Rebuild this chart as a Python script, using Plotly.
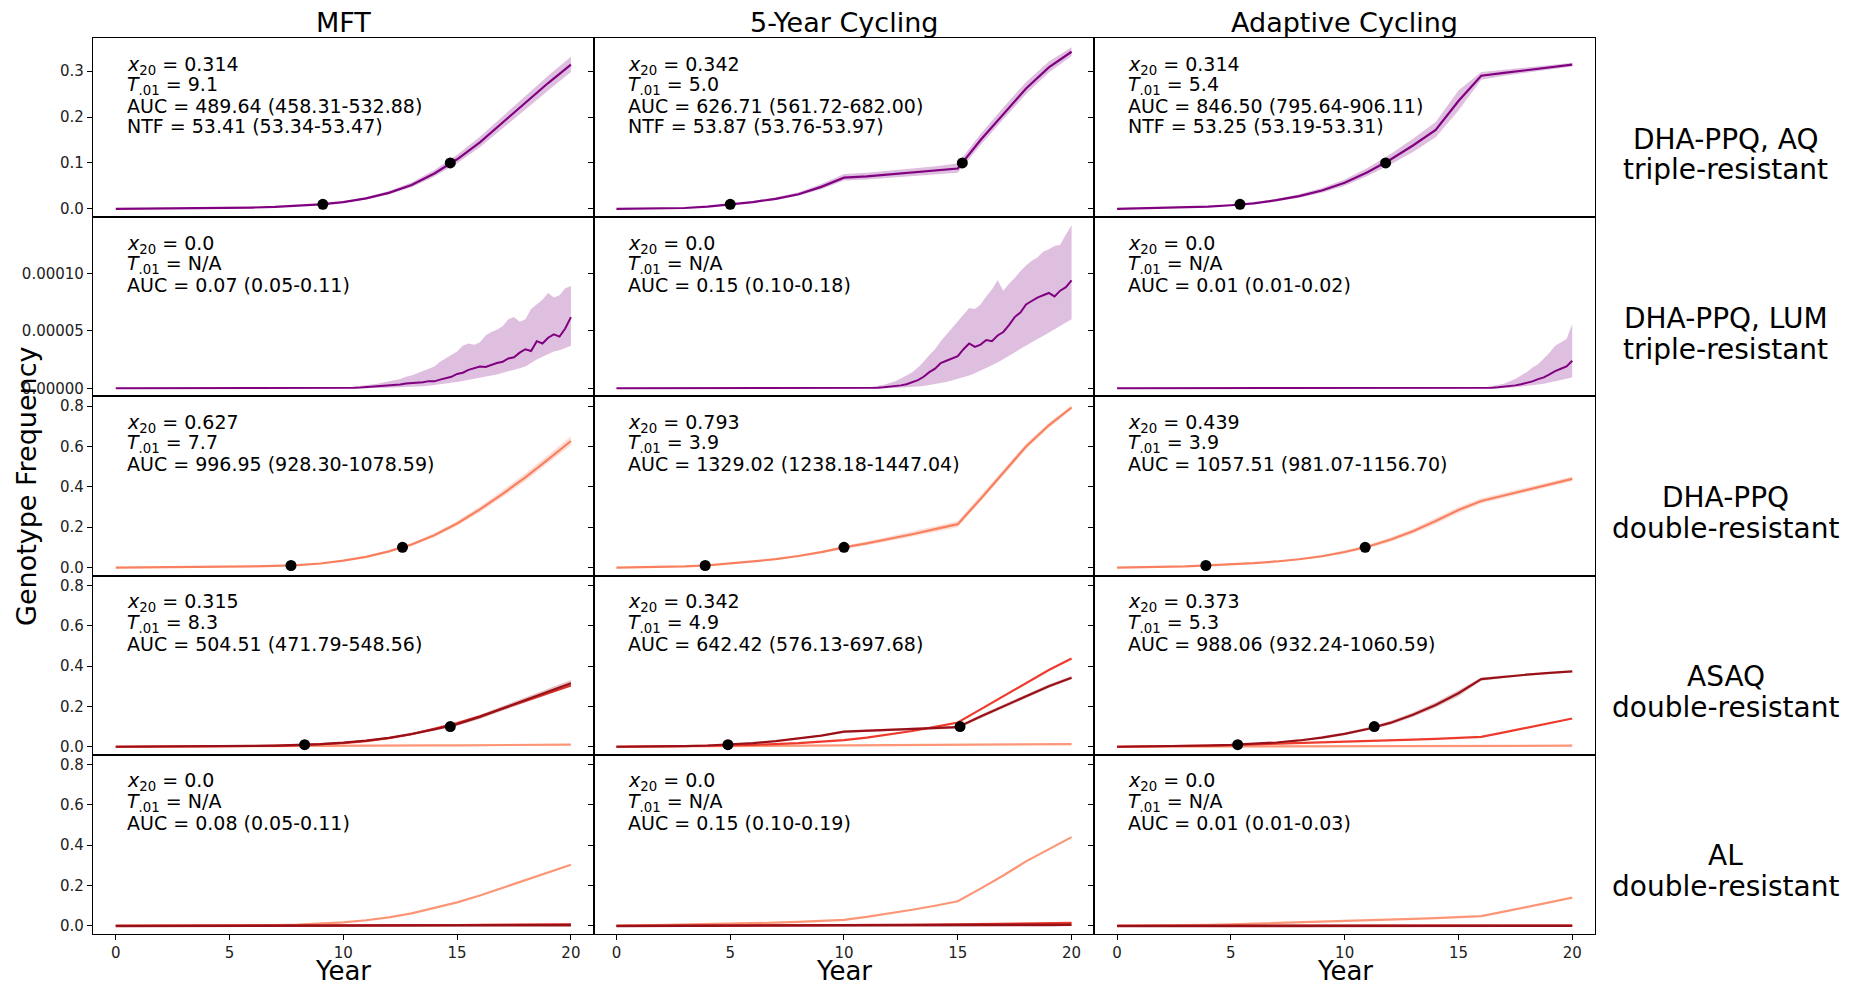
import plotly.graph_objects as go
from plotly.subplots import make_subplots

# ---------------- data ----------------
years = list(range(21))

strategies = ["MFT", "5-Year Cycling", "Adaptive Cycling"]
row_label_top = ["DHA-PPQ, AQ", "DHA-PPQ, LUM", "DHA-PPQ", "ASAQ", "AL"]
row_label_bottom = ["triple-resistant", "triple-resistant", "double-resistant",
                    "double-resistant", "double-resistant"]

x20_text = [["0.314", "0.342", "0.314"], ["0.0", "0.0", "0.0"], ["0.627", "0.793", "0.439"],
            ["0.315", "0.342", "0.373"], ["0.0", "0.0", "0.0"]]
t01_text = [["9.1", "5.0", "5.4"], ["N/A", "N/A", "N/A"], ["7.7", "3.9", "3.9"],
            ["8.3", "4.9", "5.3"], ["N/A", "N/A", "N/A"]]
auc_text = [["489.64 (458.31-532.88)", "626.71 (561.72-682.00)", "846.50 (795.64-906.11)"],
            ["0.07 (0.05-0.11)", "0.15 (0.10-0.18)", "0.01 (0.01-0.02)"],
            ["996.95 (928.30-1078.59)", "1329.02 (1238.18-1447.04)", "1057.51 (981.07-1156.70)"],
            ["504.51 (471.79-548.56)", "642.42 (576.13-697.68)", "988.06 (932.24-1060.59)"],
            ["0.08 (0.05-0.11)", "0.15 (0.10-0.19)", "0.01 (0.01-0.03)"]]
ntf_text = ["53.41 (53.34-53.47)", "53.87 (53.76-53.97)", "53.25 (53.19-53.31)"]

# time to reach 1% and 10% (black dots)
dot_t01 = [[9.1, 5.0, 5.4], None, [7.7, 3.9, 3.9], [8.3, 4.9, 5.3], None]
dot_t10 = [[14.7, 15.2, 11.8], None, [12.6, 10.0, 10.9], [14.7, 15.1, 11.3], None]
dot_levels = [0.01, 0.1]

# Row 1: DHA-PPQ, AQ triple-resistant
aq_mft = [0, 0.0003, 0.0005, 0.0008, 0.0012, 0.002, 0.003, 0.0045, 0.0068, 0.0098, 0.015, 0.023,
          0.035, 0.052, 0.077, 0.108, 0.145, 0.188, 0.232, 0.274, 0.314]
aq_mft_lo = [0, 0.0002, 0.0004, 0.0006, 0.001, 0.0017, 0.0026, 0.0039, 0.006, 0.0087, 0.0134, 0.0207,
             0.0317, 0.0472, 0.0705, 0.0995, 0.134, 0.175, 0.217, 0.258, 0.298]
aq_mft_hi = [0, 0.0004, 0.0006, 0.001, 0.0014, 0.0023, 0.0035, 0.0051, 0.0077, 0.011, 0.0168, 0.0256,
             0.0388, 0.0575, 0.0845, 0.118, 0.157, 0.202, 0.247, 0.29, 0.331]
aq_5y = [0, 0.0005, 0.001, 0.002, 0.005, 0.010, 0.015, 0.022, 0.032, 0.048, 0.068, 0.071, 0.075,
         0.079, 0.083, 0.088, 0.150, 0.207, 0.262, 0.308, 0.342]
aq_5y_lo = [0, 0.0004, 0.0008, 0.0017, 0.0043, 0.0088, 0.0132, 0.0195, 0.0285, 0.043, 0.062, 0.064,
            0.068, 0.071, 0.075, 0.079, 0.139, 0.195, 0.25, 0.297, 0.333]
aq_5y_hi = [0, 0.0006, 0.0012, 0.0024, 0.0058, 0.0114, 0.0172, 0.0252, 0.0365, 0.0545, 0.076, 0.079,
            0.083, 0.088, 0.093, 0.099, 0.163, 0.221, 0.276, 0.321, 0.352]
aq_ad = [0, 0.001, 0.002, 0.003, 0.005, 0.008, 0.012, 0.019, 0.028, 0.04, 0.057, 0.08, 0.107, 0.138,
         0.172, 0.235, 0.29, 0.296, 0.302, 0.308, 0.314]
aq_ad_lo = [0, 0.0008, 0.0016, 0.0025, 0.0042, 0.0068, 0.0102, 0.0165, 0.0245, 0.0352, 0.0505, 0.0715,
            0.096, 0.124, 0.156, 0.214, 0.281, 0.29, 0.297, 0.303, 0.31]
aq_ad_hi = [0, 0.0012, 0.0024, 0.0036, 0.0058, 0.0093, 0.014, 0.0218, 0.032, 0.0455, 0.064, 0.089,
            0.119, 0.153, 0.189, 0.258, 0.298, 0.303, 0.308, 0.313, 0.318]

# Row 2: DHA-PPQ, LUM triple-resistant (units of 1e-5). Flat at zero from year 0,
# then quarter-year readings once the curve leaves zero.
lum_mft_years = [0] + [10 + i / 4 for i in range(41)]
lum_mft_e5 = [0, 0, 0.02, 0.05, 0.07, 0.1, 0.13, 0.15, 0.2, 0.26, 0.3, 0.33, 0.42, 0.45, 0.5, 0.53,
              0.62, 0.6, 0.75, 0.9, 1.0, 1.25, 1.35, 1.6, 1.75, 1.9, 1.85, 2.05, 2.2, 2.3, 2.6, 2.7,
              3.1, 3.4, 3.25, 4.1, 3.9, 4.4, 4.7, 4.5, 5.2, 6.2]
lum_mft_hi_e5 = [0, 0.02, 0.08, 0.15, 0.2, 0.25, 0.35, 0.4, 0.5, 0.6, 0.7, 0.8, 1.0, 1.1, 1.3, 1.5,
                 1.75, 1.9, 2.3, 2.6, 2.9, 3.2, 3.7, 3.9, 3.8, 4.0, 4.6, 4.9, 5.1, 5.4, 6.0, 6.2,
                 5.8, 6.0, 6.9, 7.3, 7.7, 8.3, 7.9, 8.1, 8.7, 8.9]
lum_mft_lo_e5 = [0, 0, 0, 0, 0, 0, 0.01, 0.02, 0.03, 0.05, 0.06, 0.08, 0.1, 0.12, 0.15, 0.18, 0.22,
                 0.25, 0.32, 0.4, 0.47, 0.55, 0.65, 0.75, 0.82, 0.9, 1.0, 1.1, 1.2, 1.3, 1.45, 1.6,
                 1.75, 1.9, 2.2, 2.5, 2.75, 3.0, 3.2, 3.3, 3.5, 3.7]
lum_5y_years = [0] + [11 + i / 4 for i in range(37)]
lum_5y_e5 = [0, 0, 0.02, 0.05, 0.08, 0.12, 0.18, 0.25, 0.35, 0.5, 0.7, 1.0, 1.4, 1.7, 2.2, 2.4, 2.6,
             2.8, 3.4, 3.9, 3.6, 3.8, 4.2, 4.1, 4.6, 4.9, 5.5, 6.2, 6.6, 7.3, 7.6, 7.9, 8.1, 8.3,
             8.0, 8.5, 8.8, 9.4]
lum_5y_hi_e5 = [0, 0.05, 0.12, 0.2, 0.3, 0.45, 0.6, 0.85, 1.1, 1.4, 1.8, 2.3, 2.9, 3.4, 4.1, 4.7, 5.3,
                5.8, 6.5, 7.0, 6.9, 7.3, 8.0, 8.6, 9.4, 8.5, 9.1, 9.6, 10.2, 10.7, 11.1, 11.4, 11.9,
                12.1, 12.4, 12.5, 13.4, 14.2]
lum_5y_lo_e5 = [0, 0, 0, 0, 0.01, 0.02, 0.03, 0.05, 0.07, 0.1, 0.15, 0.2, 0.27, 0.35, 0.45, 0.55,
                0.67, 0.8, 0.95, 1.1, 1.3, 1.5, 1.75, 2.0, 2.25, 2.5, 2.8, 3.1, 3.4, 3.7, 4.0, 4.3,
                4.55, 4.8, 5.1, 5.4, 5.7, 6.0]
lum_ad_years = [0] + [16 + i / 4 for i in range(17)]
lum_ad_e5 = [0, 0, 0.02, 0.05, 0.08, 0.12, 0.18, 0.25, 0.35, 0.45, 0.6, 0.8, 0.95, 1.2, 1.5, 1.7,
             1.9, 2.4]
lum_ad_hi_e5 = [0, 0.02, 0.1, 0.2, 0.3, 0.4, 0.6, 0.8, 1.1, 1.4, 1.8, 2.1, 2.6, 3.1, 3.7, 4.0, 4.3,
                5.6]
lum_ad_lo_e5 = [0, 0, 0, 0, 0.01, 0.02, 0.05, 0.08, 0.13, 0.18, 0.25, 0.32, 0.4, 0.5, 0.6, 0.7,
                0.82, 0.95]

# Row 3: DHA-PPQ double-resistant
ppq_mft = [0, 0.0005, 0.001, 0.0015, 0.0025, 0.004, 0.006, 0.008, 0.012, 0.02, 0.034, 0.053, 0.08,
           0.114, 0.16, 0.218, 0.288, 0.365, 0.447, 0.536, 0.627]
ppq_mft_lo = [0, 0.0004, 0.0009, 0.0013, 0.0022, 0.0036, 0.0055, 0.0073, 0.011, 0.018, 0.031, 0.049,
              0.075, 0.107, 0.151, 0.207, 0.274, 0.349, 0.429, 0.516, 0.606]
ppq_mft_hi = [0, 0.0006, 0.0011, 0.0017, 0.0028, 0.0045, 0.0066, 0.0088, 0.013, 0.022, 0.037, 0.058,
              0.086, 0.122, 0.171, 0.231, 0.303, 0.383, 0.467, 0.558, 0.65]
ppq_5y = [0, 0.001, 0.003, 0.006, 0.011, 0.02, 0.03, 0.042, 0.057, 0.076, 0.1, 0.12, 0.142, 0.165,
          0.19, 0.215, 0.34, 0.47, 0.6, 0.705, 0.793]
ppq_5y_lo = [0, 0.0008, 0.0025, 0.0052, 0.0097, 0.018, 0.027, 0.038, 0.052, 0.07, 0.092, 0.111,
             0.131, 0.153, 0.176, 0.2, 0.325, 0.455, 0.585, 0.692, 0.782]
ppq_5y_hi = [0, 0.0012, 0.0035, 0.0068, 0.0123, 0.022, 0.033, 0.046, 0.062, 0.082, 0.108, 0.129,
             0.153, 0.177, 0.204, 0.23, 0.355, 0.485, 0.614, 0.718, 0.806]
ppq_ad = [0, 0.001, 0.003, 0.006, 0.011, 0.016, 0.022, 0.03, 0.041, 0.056, 0.077, 0.103, 0.138,
          0.18, 0.23, 0.285, 0.33, 0.357, 0.385, 0.412, 0.439]
ppq_ad_lo = [0, 0.0008, 0.0025, 0.0052, 0.0097, 0.0143, 0.0197, 0.027, 0.037, 0.05, 0.069, 0.094,
             0.127, 0.168, 0.216, 0.27, 0.317, 0.345, 0.373, 0.4, 0.427]
ppq_ad_hi = [0, 0.0012, 0.0035, 0.0068, 0.0123, 0.0177, 0.0243, 0.033, 0.045, 0.062, 0.085, 0.112,
             0.149, 0.192, 0.244, 0.3, 0.343, 0.369, 0.397, 0.424, 0.451]

# Row 4: ASAQ double-resistant (dark = main genotype, red, light)
asaq_mft_dark = [0, 0.0003, 0.0006, 0.001, 0.0016, 0.0025, 0.0038, 0.0058, 0.0088, 0.013, 0.02, 0.03,
                 0.044, 0.063, 0.086, 0.112, 0.148, 0.19, 0.232, 0.274, 0.315]
asaq_mft_dark_lo = [0, 0.0002, 0.0005, 0.0009, 0.0014, 0.0022, 0.0034, 0.0052, 0.0079, 0.0117, 0.018,
                    0.027, 0.04, 0.057, 0.079, 0.104, 0.138, 0.178, 0.219, 0.26, 0.299]
asaq_mft_dark_hi = [0, 0.0004, 0.0007, 0.0011, 0.0018, 0.0028, 0.0042, 0.0064, 0.0097, 0.0143, 0.022,
                    0.033, 0.048, 0.069, 0.093, 0.12, 0.158, 0.202, 0.245, 0.288, 0.331]
asaq_mft_red = [0, 0.0002, 0.0004, 0.0007, 0.0011, 0.0017, 0.0027, 0.0042, 0.0066, 0.011, 0.018, 0.028,
                0.042, 0.062, 0.088, 0.117, 0.151, 0.189, 0.228, 0.266, 0.303]
asaq_mft_light = [0, 0.0002, 0.0004, 0.0006, 0.0009, 0.0012, 0.0016, 0.002, 0.0025, 0.003, 0.0036,
                  0.0042, 0.0049, 0.0056, 0.0063, 0.007, 0.0077, 0.0084, 0.0091, 0.0097, 0.0103]
asaq_5y_dark = [0, 0.0005, 0.001, 0.003, 0.006, 0.0105, 0.018, 0.028, 0.04, 0.055, 0.075, 0.079, 0.083,
                0.087, 0.092, 0.097, 0.15, 0.2, 0.25, 0.3, 0.342]
asaq_5y_dark_lo = [0, 0.0004, 0.0008, 0.0026, 0.0053, 0.0094, 0.0163, 0.0255, 0.0365, 0.0505, 0.0695,
                   0.0735, 0.077, 0.081, 0.0855, 0.0905, 0.142, 0.191, 0.241, 0.291, 0.334]
asaq_5y_dark_hi = [0, 0.0006, 0.0012, 0.0034, 0.0067, 0.0116, 0.0197, 0.0305, 0.0435, 0.0595, 0.0805,
                   0.0845, 0.089, 0.093, 0.0985, 0.1035, 0.158, 0.209, 0.259, 0.309, 0.35]
asaq_5y_red = [0, 0.0005, 0.001, 0.002, 0.004, 0.006, 0.009, 0.013, 0.018, 0.025, 0.033, 0.045, 0.06,
               0.078, 0.098, 0.12, 0.185, 0.25, 0.318, 0.38, 0.437]
asaq_5y_light = [0, 0.0006, 0.0012, 0.0018, 0.0024, 0.003, 0.0037, 0.0043, 0.005, 0.0056, 0.0063,
                 0.0069, 0.0076, 0.0082, 0.0089, 0.0095, 0.0102, 0.0108, 0.0115, 0.0122, 0.013]
asaq_ad_dark = [0, 0.001, 0.002, 0.004, 0.006, 0.009, 0.014, 0.021, 0.031, 0.045, 0.064, 0.088, 0.118,
                0.158, 0.207, 0.265, 0.335, 0.347, 0.357, 0.366, 0.373]
asaq_ad_dark_lo = [0, 0.0008, 0.0016, 0.0033, 0.005, 0.0076, 0.0119, 0.018, 0.027, 0.039, 0.058, 0.081,
                   0.109, 0.147, 0.194, 0.25, 0.327, 0.341, 0.352, 0.361, 0.369]
asaq_ad_dark_hi = [0, 0.0012, 0.0024, 0.0047, 0.007, 0.0104, 0.0161, 0.024, 0.035, 0.051, 0.07, 0.095,
                   0.127, 0.169, 0.22, 0.28, 0.343, 0.353, 0.362, 0.371, 0.377]
asaq_ad_red = [0, 0.0008, 0.0015, 0.003, 0.005, 0.008, 0.011, 0.014, 0.018, 0.021, 0.025, 0.028, 0.032,
               0.035, 0.039, 0.043, 0.049, 0.071, 0.094, 0.117, 0.14]
asaq_ad_light = [0, 0.0002, 0.0005, 0.0007, 0.001, 0.0012, 0.0015, 0.0017, 0.002, 0.0022, 0.0025,
                 0.0027, 0.003, 0.0032, 0.0035, 0.0037, 0.004, 0.0042, 0.0045, 0.0047, 0.005]

# Row 5: AL double-resistant
al_mft_light = [0, 0.0002, 0.0004, 0.0007, 0.0011, 0.0017, 0.0027, 0.0042, 0.0066, 0.011, 0.018, 0.028,
                0.042, 0.062, 0.088, 0.117, 0.151, 0.189, 0.228, 0.266, 0.303]
al_mft_red = [0, 0.0001, 0.0002, 0.0003, 0.0004, 0.0006, 0.0008, 0.001, 0.0013, 0.0016, 0.002, 0.0024,
              0.0029, 0.0034, 0.004, 0.0046, 0.0053, 0.006, 0.0067, 0.0074, 0.008]
al_mft_dark = [0, 0.0001, 0.0001, 0.0002, 0.0002, 0.0003, 0.0004, 0.0005, 0.0006, 0.0008, 0.001,
               0.0012, 0.0014, 0.0017, 0.002, 0.0023, 0.0026, 0.003, 0.0033, 0.0037, 0.004]
al_5y_light = [0, 0.002, 0.004, 0.006, 0.008, 0.01, 0.013, 0.016, 0.02, 0.025, 0.03, 0.045, 0.062, 0.08,
               0.1, 0.122, 0.185, 0.25, 0.32, 0.38, 0.44]
al_5y_red = [0, 0.0002, 0.0004, 0.0006, 0.0009, 0.0012, 0.0016, 0.002, 0.0025, 0.003, 0.0036, 0.0043,
             0.005, 0.0058, 0.0066, 0.0075, 0.0088, 0.0102, 0.0118, 0.0134, 0.015]
al_5y_dark = [0, 0.0001, 0.0002, 0.0003, 0.0004, 0.0005, 0.0007, 0.0009, 0.0011, 0.0013, 0.0016,
              0.0019, 0.0022, 0.0025, 0.0029, 0.0033, 0.0038, 0.0043, 0.0048, 0.0054, 0.006]
al_ad_light = [0, 0.0008, 0.0015, 0.003, 0.005, 0.008, 0.011, 0.014, 0.018, 0.021, 0.025, 0.028, 0.032,
               0.035, 0.039, 0.043, 0.049, 0.071, 0.094, 0.117, 0.14]
al_ad_red = [0, 0.0001, 0.0001, 0.0002, 0.0002, 0.0003, 0.0003, 0.0004, 0.0005, 0.0005, 0.0006,
             0.0007, 0.0008, 0.0009, 0.001, 0.0011, 0.0012, 0.0014, 0.0016, 0.0018, 0.002]
al_ad_dark = [0, 0, 0.0001, 0.0001, 0.0001, 0.0001, 0.0002, 0.0002, 0.0002, 0.0003, 0.0003, 0.0003,
              0.0004, 0.0004, 0.0005, 0.0005, 0.0006, 0.0007, 0.0008, 0.0009, 0.001]

# y ranges per row
row_ranges = [[-0.018, 0.372], [-0.0000071, 0.000149], [-0.04, 0.848], [-0.04, 0.848], [-0.04, 0.848]]
row_tickvals = [[0.0, 0.1, 0.2, 0.3], [0.0, 0.00005, 0.0001], [0, 0.2, 0.4, 0.6, 0.8],
                [0, 0.2, 0.4, 0.6, 0.8], [0, 0.2, 0.4, 0.6, 0.8]]
row_tickformat = [".1f", ".5f", ".1f", ".1f", ".1f"]
x_ticks = [0, 5, 10, 15, 20]

# ---------------- styles ----------------
PURPLE = "#800080"
PURPLE_BAND = "rgba(128,0,128,0.25)"
SALMON = "#f9805f"
SALMON_BAND = "rgba(249,128,95,0.25)"
DARK = "#9a1018"
DARK_BAND = "rgba(154,16,24,0.25)"
RED = "#ee3a2c"
LIGHT = "#fc9676"
FONT = "DejaVu Sans"

W, H = 1864, 987
ML, MR, MT, MB = 93, 269, 38, 53

fig = make_subplots(rows=5, cols=3, horizontal_spacing=0, vertical_spacing=0)


def e5(v):
    return [a * 1e-5 for a in v]


def add_series(r, c, x, y, color, band=None, lo=None, hi=None, width=2.2):
    if lo is not None and hi is not None:
        fig.add_trace(go.Scatter(x=list(x) + list(x)[::-1], y=list(hi) + list(lo)[::-1],
                                 fill="toself", fillcolor=band, line=dict(width=0),
                                 mode="lines", hoverinfo="skip", showlegend=False), row=r, col=c)
    fig.add_trace(go.Scatter(x=x, y=y, mode="lines", line=dict(color=color, width=width),
                             showlegend=False), row=r, col=c)


# row 1
add_series(1, 1, years, aq_mft, PURPLE, PURPLE_BAND, aq_mft_lo, aq_mft_hi)
add_series(1, 2, years, aq_5y, PURPLE, PURPLE_BAND, aq_5y_lo, aq_5y_hi)
add_series(1, 3, years, aq_ad, PURPLE, PURPLE_BAND, aq_ad_lo, aq_ad_hi)
# row 2
add_series(2, 1, lum_mft_years, e5(lum_mft_e5), PURPLE, PURPLE_BAND, e5(lum_mft_lo_e5), e5(lum_mft_hi_e5), 2)
add_series(2, 2, lum_5y_years, e5(lum_5y_e5), PURPLE, PURPLE_BAND, e5(lum_5y_lo_e5), e5(lum_5y_hi_e5), 2)
add_series(2, 3, lum_ad_years, e5(lum_ad_e5), PURPLE, PURPLE_BAND, e5(lum_ad_lo_e5), e5(lum_ad_hi_e5), 2)
# row 3
add_series(3, 1, years, ppq_mft, SALMON, SALMON_BAND, ppq_mft_lo, ppq_mft_hi)
add_series(3, 2, years, ppq_5y, SALMON, SALMON_BAND, ppq_5y_lo, ppq_5y_hi)
add_series(3, 3, years, ppq_ad, SALMON, SALMON_BAND, ppq_ad_lo, ppq_ad_hi)
# row 4
add_series(4, 1, years, asaq_mft_light, LIGHT)
add_series(4, 1, years, asaq_mft_red, RED)
add_series(4, 1, years, asaq_mft_dark, DARK, DARK_BAND, asaq_mft_dark_lo, asaq_mft_dark_hi)
add_series(4, 2, years, asaq_5y_light, LIGHT)
add_series(4, 2, years, asaq_5y_red, RED)
add_series(4, 2, years, asaq_5y_dark, DARK, DARK_BAND, asaq_5y_dark_lo, asaq_5y_dark_hi)
add_series(4, 3, years, asaq_ad_light, LIGHT)
add_series(4, 3, years, asaq_ad_red, RED)
add_series(4, 3, years, asaq_ad_dark, DARK, DARK_BAND, asaq_ad_dark_lo, asaq_ad_dark_hi)
# row 5
add_series(5, 1, years, al_mft_light, LIGHT)
add_series(5, 1, years, al_mft_red, RED)
add_series(5, 1, years, al_mft_dark, DARK, width=2.6)
add_series(5, 2, years, al_5y_light, LIGHT)
add_series(5, 2, years, al_5y_red, RED)
add_series(5, 2, years, al_5y_dark, DARK, width=2.6)
add_series(5, 3, years, al_ad_light, LIGHT)
add_series(5, 3, years, al_ad_red, RED)
add_series(5, 3, years, al_ad_dark, DARK, width=2.6)

# black dots
for r in range(5):
    if dot_t01[r] is None:
        continue
    for c in range(3):
        fig.add_trace(go.Scatter(x=[dot_t01[r][c], dot_t10[r][c]], y=dot_levels, mode="markers",
                                 marker=dict(color="black", size=11), showlegend=False),
                      row=r + 1, col=c + 1)

TICKFONT = dict(family=FONT, size=15, color="#222")
for r in range(5):
    for c in range(3):
        fig.update_xaxes(row=r + 1, col=c + 1, range=[-1, 21], tickvals=x_ticks,
                         showticklabels=(r == 4), ticks="outside" if r == 4 else "",
                         ticklen=5, tickwidth=1, tickcolor="black",
                         showline=True, linecolor="black", linewidth=1.2, mirror=True,
                         showgrid=False, zeroline=False, tickfont=TICKFONT)
        fig.update_yaxes(row=r + 1, col=c + 1, range=row_ranges[r], tickvals=row_tickvals[r],
                         tickformat=row_tickformat[r], showticklabels=(c == 0),
                         ticks="outside", ticklen=5, tickwidth=1, tickcolor="black",
                         showline=True, linecolor="black", linewidth=1.2, mirror=True,
                         showgrid=False, zeroline=False, tickfont=TICKFONT)

annotations = []
PH = 179.2
line_offsets = [27, 47.5, 68, 88.5]
for r in range(5):
    for c in range(3):
        n = r * 3 + c + 1
        xr = "x domain" if n == 1 else f"x{n} domain"
        yr = "y domain" if n == 1 else f"y{n} domain"
        lines = [f"<i>x</i><sub>20</sub> = {x20_text[r][c]}",
                 f"<i>T</i><sub>.01</sub> = {t01_text[r][c]}",
                 f"AUC = {auc_text[r][c]}"]
        if r == 0:
            lines.append(f"NTF = {ntf_text[c]}")
        for k, t in enumerate(lines):
            annotations.append(dict(text=t, xref=xr, yref=yr, x=0.064, y=1 - line_offsets[k] / PH,
                                    xanchor="left", yanchor="middle", showarrow=False,
                                    font=dict(family=FONT, size=19, color="black")))
        if r == 0:
            annotations.append(dict(text=strategies[c], xref=xr, yref=yr, x=0.5, y=1 + 16 / PH,
                                    xanchor="center", yanchor="middle", showarrow=False,
                                    font=dict(family=FONT, size=27, color="black")))
        if r == 4:
            annotations.append(dict(text="Year", xref=xr, yref=yr, x=0.5, y=-37 / PH,
                                    xanchor="center", yanchor="middle", showarrow=False,
                                    font=dict(family=FONT, size=26, color="black")))
        if c == 2:
            annotations.append(dict(text=row_label_top[r], xref="paper", yref=yr, x=1.087,
                                    y=1 - 101 / PH, xanchor="center", yanchor="middle",
                                    showarrow=False, font=dict(family=FONT, size=28, color="black")))
            annotations.append(dict(text=row_label_bottom[r], xref="paper", yref=yr, x=1.087,
                                    y=1 - 132 / PH, xanchor="center", yanchor="middle",
                                    showarrow=False, font=dict(family=FONT, size=28, color="black")))

annotations.append(dict(text="Genotype Frequency", xref="paper", yref="paper", x=-0.0446, y=0.5,
                        xanchor="center", yanchor="middle", textangle=-90, showarrow=False,
                        font=dict(family=FONT, size=27, color="black")))

fig.update_layout(width=W, height=H, margin=dict(l=ML, r=MR, t=MT, b=MB),
                  plot_bgcolor="white", paper_bgcolor="white", showlegend=False,
                  annotations=annotations, font=dict(family=FONT))

# remove the default page margin so the 1864x987 figure fills the window exactly
fig.write_html("out.html", config={"displayModeBar": False},
               post_script="document.body.style.margin='0px';document.body.style.overflow='hidden';")
